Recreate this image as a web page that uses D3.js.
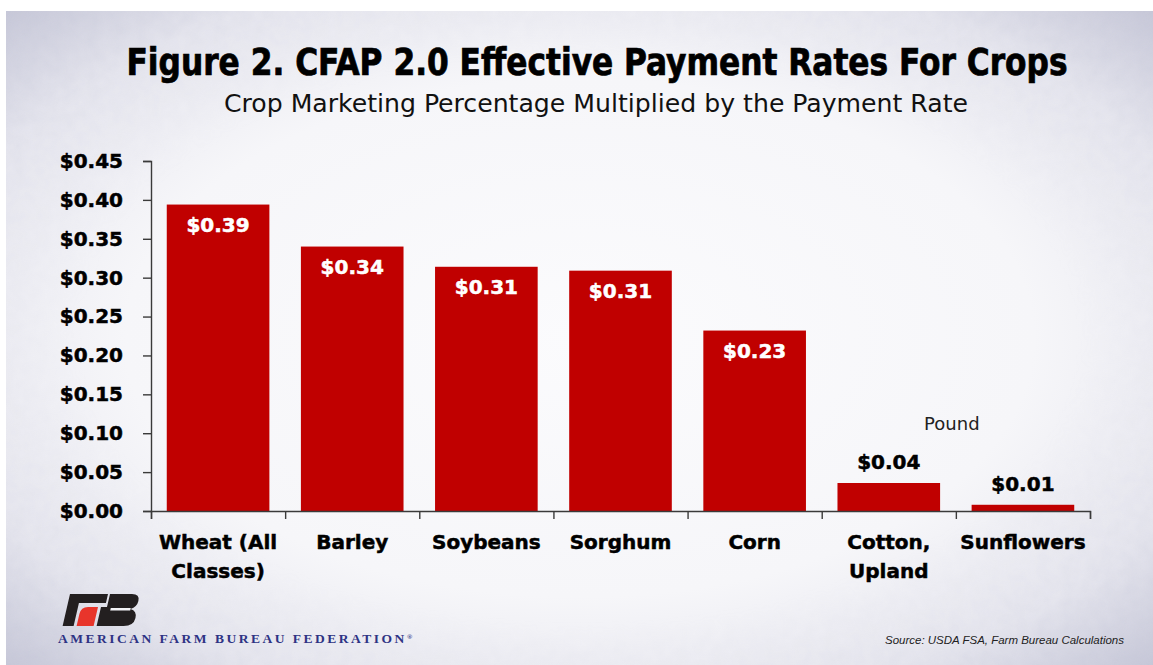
<!DOCTYPE html>
<html>
<head>
<meta charset="utf-8">
<script src="https://cdn.jsdelivr.net/npm/d3@7"></script>
<style>
  html, body { margin: 0; padding: 0; background: #fff; }
  svg { display: block; }
</style>
</head>
<body>
<svg id="chart" width="1153" height="665"></svg>
<script>
// data
var categories = ["Wheat (All Classes)", "Barley", "Soybeans", "Sorghum", "Corn", "Cotton, Upland", "Sunflowers"];
var rates = [0.394, 0.340, 0.314, 0.309, 0.232, 0.036, 0.008];
var tickLabels = [0, 0.05, 0.10, 0.15, 0.20, 0.25, 0.30, 0.35, 0.40, 0.45];

var svg = d3.select("#chart"),
    margin = {top: 161, right: 63, bottom: 154, left: 151},
    width = +svg.attr("width") - margin.left - margin.right,
    height = +svg.attr("height") - margin.top - margin.bottom;

var boldFont = "'DejaVu Sans', sans-serif";
var narrowFont = "'Liberation Sans Narrow', 'DejaVu Sans Condensed', sans-serif";

// background slide with faded edges
var defs = svg.append("defs");
var grad = defs.append("radialGradient")
    .attr("id", "bg")
    .attr("cx", "50%").attr("cy", "50%").attr("r", "72%");
grad.append("stop").attr("offset", "0%").attr("stop-color", "#fbfbfd");
grad.append("stop").attr("offset", "55%").attr("stop-color", "#f6f6f9");
grad.append("stop").attr("offset", "80%").attr("stop-color", "#e7e7ef");
grad.append("stop").attr("offset", "100%").attr("stop-color", "#c4c5d6");

var noise = defs.append("filter").attr("id", "grain");
noise.append("feTurbulence")
    .attr("type", "fractalNoise")
    .attr("baseFrequency", "0.08")
    .attr("numOctaves", 2)
    .attr("seed", 4);
noise.append("feColorMatrix")
    .attr("values", "0 0 0 0 0.55  0 0 0 0 0.56  0 0 0 0 0.68  0 0 0 0.4 0");
noise.append("feComposite").attr("in2", "SourceGraphic").attr("operator", "in");

var edgeMask = defs.append("radialGradient")
    .attr("id", "edgeFade")
    .attr("cx", "50%").attr("cy", "50%").attr("r", "72%");
edgeMask.append("stop").attr("offset", "60%").attr("stop-color", "#fff").attr("stop-opacity", 0);
edgeMask.append("stop").attr("offset", "100%").attr("stop-color", "#fff").attr("stop-opacity", 1);
defs.append("mask").attr("id", "edgeMask")
    .append("rect")
    .attr("x", 6).attr("y", 11).attr("width", 1147).attr("height", 654)
    .attr("fill", "url(#edgeFade)");

svg.append("rect")
    .attr("x", 6).attr("y", 11)
    .attr("width", 1147).attr("height", 654)
    .attr("fill", "url(#bg)");
svg.append("rect")
    .attr("x", 6).attr("y", 11)
    .attr("width", 1147).attr("height", 654)
    .attr("fill", "#fff")
    .attr("filter", "url(#grain)")
    .attr("mask", "url(#edgeMask)");

// titles
svg.append("text")
    .attr("x", 597).attr("y", 75)
    .attr("text-anchor", "middle")
    .attr("textLength", 941)
    .attr("lengthAdjust", "spacingAndGlyphs")
    .style("font-family", narrowFont)
    .style("font-weight", "bold")
    .style("font-size", "37px")
    .style("fill", "#000")
    .style("stroke", "#000")
    .style("stroke-width", 0.7)
    .text("Figure 2. CFAP 2.0 Effective Payment Rates For Crops");

svg.append("text")
    .attr("x", 596).attr("y", 112)
    .attr("text-anchor", "middle")
    .attr("textLength", 744)
    .attr("lengthAdjust", "spacingAndGlyphs")
    .style("font-family", narrowFont)
    .style("font-size", "25px")
    .style("fill", "#111")
    .text("Crop Marketing Percentage Multiplied by the Payment Rate");

var g = svg.append("g")
    .attr("transform", "translate(" + margin.left + "," + margin.top + ")");

var x = d3.scaleBand()
    .domain(categories)
    .range([0, width])
    .paddingInner(0.235)
    .paddingOuter(0.1175);

// slot boundaries for the category ticks
var xSlots = d3.scaleLinear().domain([0, categories.length]).range([0, width]);

var y = d3.scaleLinear().domain([0, 0.45]).range([height, 0]);

// y axis
var yAxis = g.append("g")
    .attr("class", "axis axis--y")
    .call(d3.axisLeft(y)
        .tickValues(tickLabels)
        .tickSize(8)
        .tickPadding(20)
        .tickFormat(function(d) { return "$" + d3.format(".2f")(d); }));
yAxis.select(".domain").attr("stroke", "#3a3a3a").attr("stroke-width", 1.4);
yAxis.selectAll(".tick line").attr("stroke", "#3a3a3a").attr("stroke-width", 1.4);
yAxis.selectAll(".tick text")
    .style("font-family", boldFont)
    .style("font-weight", "bold")
    .style("font-size", "20px")
    .style("fill", "#000")
    .style("stroke", "#000")
    .style("stroke-width", 0.5);

// bars
g.selectAll(".bar")
    .data(rates)
    .enter().append("rect")
    .attr("class", "bar")
    .attr("x", function(d, i) { return x(categories[i]); })
    .attr("y", function(d) { return y(d); })
    .attr("width", x.bandwidth())
    .attr("height", function(d) { return height - y(d); })
    .attr("fill", "#c00000");

// x axis with ticks between categories
var xAxis = g.append("g")
    .attr("class", "axis axis--x")
    .attr("transform", "translate(0," + height + ")")
    .call(d3.axisBottom(xSlots)
        .tickValues(d3.range(categories.length + 1))
        .tickSize(8)
        .tickFormat(""));
xAxis.select(".domain").attr("stroke", "#3a3a3a").attr("stroke-width", 1.4);
xAxis.selectAll(".tick line").attr("stroke", "#3a3a3a").attr("stroke-width", 1.4);

// value labels
g.selectAll(".value")
    .data(rates)
    .enter().append("text")
    .attr("class", "value")
    .attr("x", function(d, i) { return x(categories[i]) + x.bandwidth() / 2; })
    .attr("y", function(d) { return height - y(d) > 40 ? y(d) + 27 : y(d) - 14; })
    .attr("text-anchor", "middle")
    .style("font-family", boldFont)
    .style("font-weight", "bold")
    .style("font-size", "20px")
    .style("fill", function(d) { return height - y(d) > 40 ? "#fff" : "#000"; })
    .style("stroke", function(d) { return height - y(d) > 40 ? "#fff" : "#000"; })
    .style("stroke-width", 0.5)
    .text(function(d) { return "$" + d3.format(".2f")(d); });

// category labels, wrapped to the slot width
var catLabels = g.selectAll(".cat")
    .data(categories)
    .enter().append("text")
    .attr("class", "cat")
    .attr("text-anchor", "middle")
    .attr("transform", function(d) {
        return "translate(" + (x(d) + x.bandwidth() / 2) + "," + (height + 38) + ")";
    })
    .style("font-family", boldFont)
    .style("font-weight", "bold")
    .style("font-size", "20px")
    .style("fill", "#000")
    .style("stroke", "#000")
    .style("stroke-width", 0.5);

catLabels.each(function(d) {
    var el = d3.select(this),
        words = d.split(" "),
        line = [],
        tspan = el.append("tspan").attr("x", 0).attr("dy", 0);
    words.forEach(function(w) {
        line.push(w);
        tspan.text(line.join(" "));
        if (tspan.node().getComputedTextLength() > x.step() - 4 && line.length > 1) {
            line.pop();
            tspan.text(line.join(" "));
            line = [w];
            tspan = el.append("tspan").attr("x", 0).attr("dy", "29px").text(w);
        }
    });
});

// unit note
g.append("text")
    .attr("x", xSlots(categories.length - 1) - 4)
    .attr("y", y(0.1) - 3)
    .attr("text-anchor", "middle")
    .style("font-family", "'DejaVu Sans', sans-serif")
    .style("font-size", "18px")
    .style("fill", "#222")
    .text("Pound");

// source note
svg.append("text")
    .attr("x", 1124).attr("y", 644)
    .attr("text-anchor", "end")
    .attr("textLength", 239)
    .attr("lengthAdjust", "spacingAndGlyphs")
    .style("font-family", "'Liberation Sans', Arial, sans-serif")
    .style("font-style", "italic")
    .style("font-size", "11.5px")
    .style("fill", "#222")
    .text("Source: USDA FSA, Farm Bureau Calculations");

// logo
var logo = svg.append("g")
    .attr("transform", "translate(70,594) skewX(-13)");
logo.append("path")
    .attr("d", "M0,0 H38 V9 H11 V32 H0 Z")
    .attr("fill", "#231f20");
logo.append("path")
    .attr("d", "M14,32 V20 Q14,13 21,13 H31 V32 Z")
    .attr("fill", "#e8352b");
logo.append("path")
    .attr("d", "M40,0 H62 Q70,0 70,7 Q70,13 64,15 Q71,17 71,24 Q71,32 61,32 H34 V13 H40 Z")
    .attr("fill", "#231f20");
logo.append("rect")
    .attr("x", 44).attr("y", 14).attr("width", 20).attr("height", 2.5)
    .attr("fill", "#f4f4f7");

var org = svg.append("text")
    .attr("x", 58).attr("y", 643)
    .style("font-family", "'Liberation Serif', 'DejaVu Serif', serif")
    .style("font-weight", "bold")
    .style("font-size", "13.5px")
    .style("letter-spacing", "2.5px")
    .style("fill", "#2e3384");
org.append("tspan").text("AMERICAN FARM BUREAU FEDERATION");
org.append("tspan")
    .attr("dy", -4)
    .style("font-size", "7px")
    .text("\u00ae");
</script>
</body>
</html>
